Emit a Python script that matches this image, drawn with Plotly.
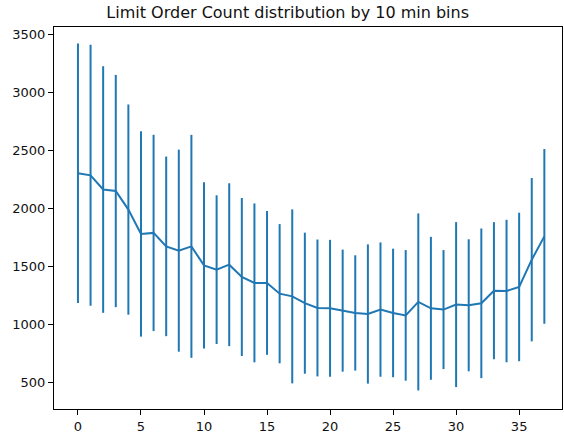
import plotly.graph_objects as go

bins = list(range(38))
mean_counts = [2305, 2287, 2165, 2152, 1992, 1782, 1791, 1675, 1638, 1675,
               1511, 1474, 1517, 1411, 1360, 1360, 1267, 1244, 1185, 1144,
               1141, 1121, 1101, 1092, 1130, 1101, 1080, 1196, 1141, 1130,
               1173, 1167, 1184, 1293, 1290, 1325, 1560, 1761]
std_counts = [1118, 1125, 1063, 1001, 906, 885, 846, 774, 871, 961,
              716, 641, 702, 681, 685, 620, 600, 750, 608, 590,
              590, 526, 497, 600, 579, 554, 563, 763, 616, 513,
              711, 569, 645, 591, 614, 640, 704, 753]
x_ticks = [0, 5, 10, 15, 20, 25, 30, 35]
y_ticks = [500, 1000, 1500, 2000, 2500, 3000, 3500]
title_text = "Limit Order Count distribution by 10 min bins"

color = "#1f77b4"
fig = go.Figure(go.Scatter(
    x=bins, y=mean_counts, mode="lines",
    line=dict(color=color, width=2),
    error_y=dict(type="data", array=std_counts, visible=True,
                 color=color, thickness=2, width=0),
))

axis_common = dict(showline=True, linecolor="black", linewidth=1, mirror=True,
                   showgrid=False, zeroline=False, ticks="outside", ticklen=5,
                   tickcolor="black", tickwidth=1,
                   tickfont=dict(family="DejaVu Sans", size=13, color="#111111"))

W, H = 564, 438
fig.update_layout(
    width=W, height=H,
    margin=dict(l=54, r=2, t=27, b=29, autoexpand=False),
    paper_bgcolor="white", plot_bgcolor="white",
    showlegend=False,
    title=dict(text=title_text, x=0.46, xref="paper", xanchor="center",
               y=1 - 12.7 / H, yanchor="middle",
               font=dict(family="DejaVu Sans", size=16, color="#111111")),
    xaxis=dict(range=[-1.9, 38.4], tickvals=x_ticks, **axis_common),
    yaxis=dict(range=[273, 3566], tickvals=y_ticks, **axis_common),
)

# Remove the default 8px page margin so the figure fills the window exactly.
fig.write_html("out.html", config={"displayModeBar": False},
               post_script="document.body.style.margin='0px';")
